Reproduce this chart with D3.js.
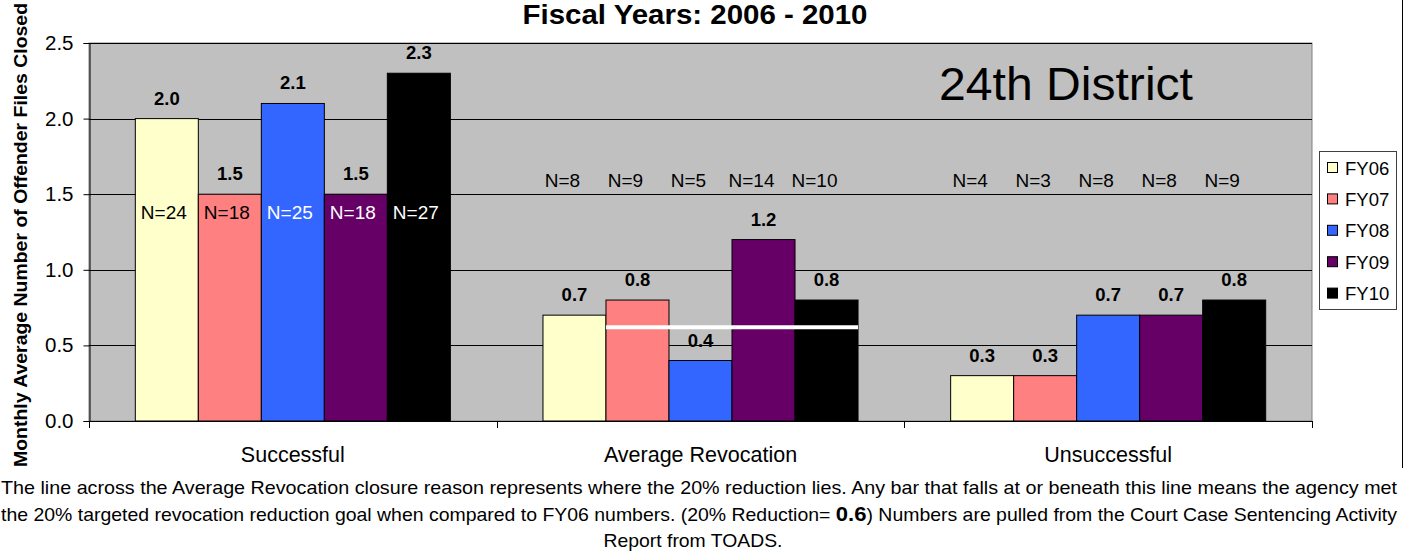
<!DOCTYPE html>
<html><head><meta charset="utf-8">
<script src="https://cdn.jsdelivr.net/npm/d3@7"></script>
<style>
body{margin:0;background:#fff;}
svg{display:block;font-family:"Liberation Sans",Arial,sans-serif;}
</style>
</head><body>
<svg id="c" width="1408" height="559"></svg>
<script>
// ---- data ----
const categories = ["Successful", "Average Revocation", "Unsuccessful"];
const seriesNames = ["FY06", "FY07", "FY08", "FY09", "FY10"];
const fy06 = [2.0, 0.7, 0.3];
const fy07 = [1.5, 0.8, 0.3];
const fy08 = [2.1, 0.4, 0.7];
const fy09 = [1.5, 1.2, 0.7];
const fy10 = [2.3, 0.8, 0.8];
const countsSuccessful = [24, 18, 25, 18, 27];
const countsRevocation = [8, 9, 5, 14, 10];
const countsUnsuccessful = [4, 3, 8, 8, 9];
const yTicks = [0, 0.5, 1.0, 1.5, 2.0, 2.5];
const goalValue = 0.62;
const titleText = "Fiscal Years: 2006 - 2010";
const districtText = "24th District";
const yLabelText = "Monthly Average Number of Offender Files Closed";
const note1 = "The line across the Average Revocation closure reason represents where the 20% reduction lies.  Any bar that falls at or beneath this line means the agency met";
const note2a = "the 20% targeted revocation reduction goal when compared to FY06 numbers. (20% Reduction= ";
const note2b = "0.6";
const note2c = ") Numbers are pulled from the Court Case Sentencing Activity";
const note3 = "Report from TOADS.";

// ---- styles ----
const colors = ["#FFFFCC", "#FF8080", "#3366FF", "#660066", "#000000"];
const nTextColorsSuccessful = ["#000", "#000", "#fff", "#fff", "#fff"];

const values = [fy06, fy07, fy08, fy09, fy10];
const counts = [countsSuccessful, countsRevocation, countsUnsuccessful];

const svg = d3.select("#c");
const plotL = 89, plotR = 1312, plotT = 43, plotB = 421;

const x0 = d3.scaleBand().domain(categories).range([plotL, plotR]).padding(0);
const x1 = d3.scaleBand().domain(seriesNames).range([0, x0.bandwidth()]).paddingInner(0).paddingOuter(0.735);
const y = d3.scaleLinear().domain([0, 2.5]).range([plotB, plotT]);

// plot background
svg.append("rect").attr("x", plotL).attr("y", plotT).attr("width", plotR - plotL).attr("height", plotB - plotT)
  .attr("fill", "#C0C0C0").attr("stroke", "#808080").attr("stroke-width", 1);

// gridlines
svg.append("g").selectAll("line").data(yTicks.filter(d => d > 0)).join("line")
  .attr("x1", plotL).attr("x2", plotR)
  .attr("y1", d => Math.round(y(d)) + 0.5).attr("y2", d => Math.round(y(d)) + 0.5)
  .attr("stroke", "#000").attr("stroke-width", 1);

// bars
const gBars = svg.append("g");
categories.forEach((cat, ci) => {
  seriesNames.forEach((s, si) => {
    const v = values[si][ci];
    gBars.append("rect")
      .attr("x", x0(cat) + x1(s))
      .attr("y", y(v))
      .attr("width", x1.bandwidth())
      .attr("height", y(0) - y(v))
      .attr("fill", colors[si]).attr("stroke", "#000").attr("stroke-width", 1);
  });
});

// value labels
categories.forEach((cat, ci) => {
  seriesNames.forEach((s, si) => {
    const v = values[si][ci];
    svg.append("text")
      .attr("x", x0(cat) + x1(s) + x1.bandwidth() / 2)
      .attr("y", y(v) - 14)
      .attr("text-anchor", "middle").attr("font-weight", "bold").attr("font-size", 18.5)
      .attr("fill", "#000").text(v.toFixed(1));
  });
});

// N labels
categories.forEach((cat, ci) => {
  seriesNames.forEach((s, si) => {
    const inside = ci === 0;
    const shift = inside ? -3 : -12;
    svg.append("text")
      .attr("x", x0(cat) + x1(s) + x1.bandwidth() / 2 + shift)
      .attr("y", inside ? y(1.336) : y(1.548))
      .attr("text-anchor", "middle").attr("font-size", 19)
      .attr("fill", inside ? nTextColorsSuccessful[si] : "#000")
      .text("N=" + counts[ci][si]);
  });
});

// goal line across Average Revocation
svg.append("line")
  .attr("x1", x0("Average Revocation") + x1("FY07"))
  .attr("x2", x0("Average Revocation") + x1("FY10") + x1.bandwidth())
  .attr("y1", y(goalValue)).attr("y2", y(goalValue))
  .attr("stroke", "#fff").attr("stroke-width", 4);

// y axis
const yAxis = d3.axisLeft(y).tickValues(yTicks).tickFormat(d3.format(".1f")).tickSize(6).tickPadding(10);
const gy = svg.append("g").attr("transform", `translate(${plotL + 0.5},0)`).call(yAxis);
gy.select(".domain").attr("stroke", "#000");
gy.selectAll(".tick line").attr("stroke", "#000");
gy.selectAll(".tick text").attr("font-size", 20.5).attr("fill", "#000")
  .attr("font-family", "Liberation Sans, Arial, sans-serif");

// x axis
svg.append("line").attr("x1", plotL).attr("x2", plotR).attr("y1", plotB + 0.5).attr("y2", plotB + 0.5)
  .attr("stroke", "#000");
const tickXs = categories.map(c => x0(c)).concat([plotR]);
svg.append("g").selectAll("line").data(tickXs).join("line")
  .attr("x1", d => Math.round(d) + 0.5).attr("x2", d => Math.round(d) + 0.5)
  .attr("y1", plotB).attr("y2", plotB + 7).attr("stroke", "#000");
svg.append("g").selectAll("text").data(categories).join("text")
  .attr("x", d => x0(d) + x0.bandwidth() / 2).attr("y", 462)
  .attr("text-anchor", "middle").attr("font-size", 21.5).attr("fill", "#000").text(d => d);

// title
svg.append("text").attr("x", 695).attr("y", 24).attr("text-anchor", "middle")
  .attr("font-weight", "bold").attr("font-size", 27.5)
  .attr("textLength", 345).attr("lengthAdjust", "spacingAndGlyphs").text(titleText);

// district label
svg.append("text").attr("x", 939).attr("y", 100).attr("font-size", 47)
  .attr("textLength", 254).attr("lengthAdjust", "spacingAndGlyphs").text(districtText);

// y label
svg.append("text").attr("transform", "translate(27,235) rotate(-90)")
  .attr("text-anchor", "middle").attr("font-weight", "bold").attr("font-size", 19)
  .attr("textLength", 464).attr("lengthAdjust", "spacingAndGlyphs").text(yLabelText);

// legend
const lg = svg.append("g");
lg.append("rect").attr("x", 1319.5).attr("y", 151.5).attr("width", 77).attr("height", 158)
  .attr("fill", "#fff").attr("stroke", "#404040").attr("stroke-width", 1);
seriesNames.forEach((s, i) => {
  const cy = 168 + i * 31.4;
  lg.append("rect").attr("x", 1327.5).attr("y", cy - 5.5).attr("width", 10).attr("height", 10)
    .attr("fill", colors[i]).attr("stroke", "#000");
  lg.append("text").attr("x", 1345).attr("y", cy + 6.5).attr("font-size", 18.5).attr("fill", "#000").text(s);
});

// outer right border
svg.append("line").attr("x1", 1402.5).attr("x2", 1402.5).attr("y1", 0).attr("y2", 468).attr("stroke", "#000");

// notes
svg.append("text").attr("x", 1).attr("y", 494).attr("font-size", 18.5)
  .attr("textLength", 1396).attr("lengthAdjust", "spacingAndGlyphs").text(note1);
const t2 = svg.append("text").attr("x", 1).attr("y", 521).attr("font-size", 18.5)
  .attr("textLength", 1396).attr("lengthAdjust", "spacingAndGlyphs");
t2.append("tspan").text(note2a);
t2.append("tspan").attr("font-weight", "bold").attr("font-size", 21).text(note2b);
t2.append("tspan").text(note2c);
svg.append("text").attr("x", 693).attr("y", 547).attr("font-size", 18.5).attr("text-anchor", "middle")
  .attr("textLength", 179).attr("lengthAdjust", "spacingAndGlyphs").text(note3);
</script>
</body></html>
